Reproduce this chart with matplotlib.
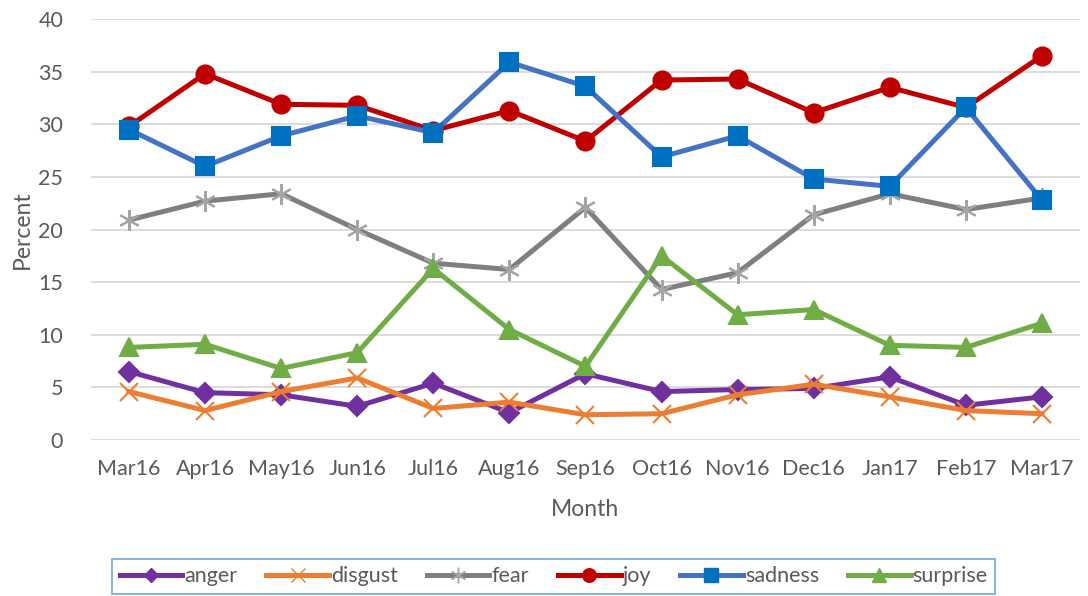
import matplotlib.pyplot as plt
from matplotlib.lines import Line2D

months = ["Mar16", "Apr16", "May16", "Jun16", "Jul16", "Aug16", "Sep16",
          "Oct16", "Nov16", "Dec16", "Jan17", "Feb17", "Mar17"]

anger = [6.5, 4.5, 4.3, 3.2, 5.4, 2.6, 6.3, 4.6, 4.8, 4.9, 6.0, 3.3, 4.1]
disgust = [4.6, 2.8, 4.6, 5.9, 3.0, 3.6, 2.4, 2.5, 4.3, 5.3, 4.1, 2.8, 2.5]
fear = [20.9, 22.7, 23.4, 20.0, 16.8, 16.2, 22.1, 14.3, 15.9, 21.4, 23.4, 21.9, 23.0]
joy = [29.8, 34.8, 31.9, 31.8, 29.4, 31.3, 28.4, 34.2, 34.3, 31.1, 33.5, 31.6, 36.5]
sadness = [29.5, 26.0, 28.9, 30.8, 29.2, 35.9, 33.6, 26.9, 28.9, 24.8, 24.1, 31.6, 22.8]
surprise = [8.8, 9.1, 6.8, 8.3, 16.3, 10.5, 7.0, 17.5, 11.9, 12.4, 9.0, 8.8, 11.1]

plt.rcParams['font.family'] = ['Lato', 'DejaVu Sans']
tick_col = '#595959'

fig = plt.figure(figsize=(10.88, 5.96), dpi=100)
ax = fig.add_axes([0.0836, 0.2617, 0.909, 0.7064])

x = list(range(len(months)))
lw = 3.6

# (values, label, line colour, marker, marker colour, marker size)
series = [
    (anger, 'anger', '#7030A0', 'D', '#7030A0', 10),
    (disgust, 'disgust', '#ED7D31', 'x', '#ED7D31', 13),
    (fear, 'fear', '#7F7F7F', (6, 2, 0), '#A5A5A5', 15),
    (joy, 'joy', '#C00000', 'o', '#C00000', 13),
    (sadness, 'sadness', '#4472C4', 's', '#0070C0', 13),
    (surprise, 'surprise', '#70AD47', '^', '#70AD47', 13),
]

handles = []
for vals, lab, col, mk, mcol, ms in series:
    ax.plot(x, vals, color=col, lw=lw, marker=mk, markersize=ms,
            markerfacecolor=mcol, markeredgecolor=mcol, markeredgewidth=1.5,
            solid_joinstyle='round', zorder=3)
    handles.append(Line2D([], [], color=col, lw=lw, marker=mk, markersize=ms * 0.75,
                          markerfacecolor=mcol, markeredgecolor=mcol, label=lab))

ax.set_xlim(-0.5, 12.5)
ax.set_ylim(0, 40)
ax.set_yticks(range(0, 41, 5))
ax.set_xticks(x)
ax.set_xticklabels(months)
ax.yaxis.grid(True, color='#D9D9D9', lw=1.3)
ax.set_axisbelow(True)
for s in ax.spines.values():
    s.set_visible(False)
ax.tick_params(length=0, labelsize=15.5, colors=tick_col)
ax.tick_params(axis='y', pad=20)
ax.tick_params(axis='x', pad=14)

ax.set_xlabel("Month", fontsize=16.5, color=tick_col, labelpad=14)
ax.set_ylabel("Percent", fontsize=16.5, color=tick_col, labelpad=4)

leg = fig.legend(handles=handles, loc='center', bbox_to_anchor=(0.509, 0.033),
                 ncol=6, frameon=True, fancybox=False, fontsize=15.5,
                 handlelength=2.9, handletextpad=0.1, columnspacing=1.35,
                 borderpad=0.35, labelcolor=tick_col)
leg.get_frame().set_edgecolor('#5B9BD5')
leg.get_frame().set_linewidth(1.3)

fig.savefig('out.png', dpi=100)
